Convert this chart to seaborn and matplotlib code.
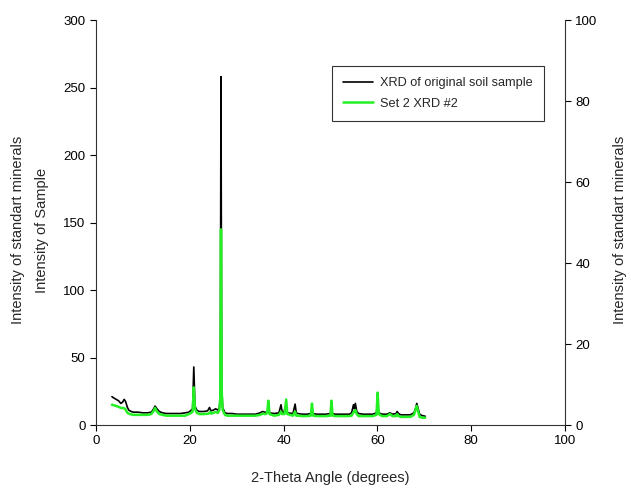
import matplotlib
matplotlib.use("Agg")
import matplotlib.pyplot as plt
import seaborn as sns
import pandas as pd

# ---- data ----
sample_x = [3.4, 3.8, 4.3, 4.8, 5.3, 5.7, 6.0, 6.3, 6.7, 7.0, 7.5, 8.0, 9.0, 10.0, 11.0,
            11.8, 12.3, 12.6, 13.0, 13.5, 14.2, 15.0, 16.0, 17.0, 18.0, 19.0, 19.8, 20.3,
            20.6, 20.85, 21.1, 21.5, 22.0, 23.0, 23.8, 24.2, 24.5, 25.0, 25.5, 26.0, 26.3,
            26.5, 26.65, 26.8, 27.0, 27.5, 28.0, 29.0, 30.0, 31.0, 32.0, 33.0, 34.0, 35.0,
            35.5, 36.0, 36.5, 36.6, 36.75, 37.0, 38.0, 39.0, 39.45, 39.7, 40.0, 40.45, 40.8,
            42.0, 42.45, 42.7, 43.0, 44.0, 45.0, 45.8, 46.0, 46.2, 47.0, 48.0, 49.0, 50.0,
            50.15, 50.4, 51.0, 52.0, 53.0, 54.0, 54.5, 54.9, 55.1, 55.3, 55.6, 56.0, 57.0,
            58.0, 59.0, 59.8, 60.0, 60.3, 61.0, 62.0, 62.7, 63.2, 64.0, 64.2, 64.5, 65.0,
            66.0, 67.0, 67.8, 68.1, 68.4, 68.7, 69.0, 69.5, 70.2]
sample_y = [21, 20, 19, 18, 16, 17, 19, 17.5, 13, 11, 10, 9.5, 9.5, 9, 9,
            9.5, 12, 14, 12, 10, 9, 8.5, 8.5, 8.5, 8.5, 9, 9.5, 11,
            12, 43, 14, 11, 10, 10, 10.5, 13, 10.5, 11, 12, 11, 13,
            20, 258, 30, 13, 9, 8.5, 8.5, 8, 8, 8, 8, 8, 9,
            10, 9.5, 9, 10, 12, 9, 8.5, 9, 15, 9.5, 9, 14, 9,
            8.5, 15.5, 9, 8.5, 8, 8, 8.5, 11, 8.5, 8, 8, 8, 8.5,
            12, 8.5, 8, 8, 8, 8, 9, 15, 12, 16, 10, 8.5, 8,
            8, 8, 9, 15, 9, 8, 8, 9, 8, 8.5, 10, 8.5, 7.5,
            7.5, 7.5, 9, 12, 16, 12, 8, 7, 6.5]

standard_x = [3.4, 4.0, 4.8, 5.3, 5.8, 6.2, 6.7, 7.2, 8.0, 9.0, 10.0, 11.0, 11.8, 12.3,
              12.6, 13.0, 13.5, 14.2, 15.0, 17.0, 19.0, 19.8, 20.3, 20.6, 20.85, 21.1,
              21.5, 22.0, 23.0, 24.0, 24.35, 24.6, 25.0, 25.5, 26.0, 26.3, 26.5, 26.65,
              26.8, 27.0, 27.5, 28.0, 31.0, 34.0, 35.0, 35.5, 36.2, 36.5, 36.75, 37.0,
              38.0, 39.0, 39.45, 39.7, 40.2, 40.55, 40.8, 42.0, 42.45, 42.7, 43.0, 44.0,
              45.0, 45.8, 46.05, 46.3, 47.0, 49.0, 50.0, 50.2, 50.45, 51.0, 54.0, 54.5,
              55.0, 55.3, 55.6, 56.0, 59.0, 59.8, 60.05, 60.3, 61.0, 62.0, 62.7, 63.2,
              64.0, 64.2, 64.5, 65.0, 67.0, 67.8, 68.2, 68.4, 68.7, 69.0, 69.5, 70.2]
standard_y = [5.0, 4.8, 4.5, 4.2, 4.2, 4.0, 3.0, 2.7, 2.5, 2.5, 2.5, 2.5, 2.7, 3.5,
              4.2, 3.3, 2.7, 2.5, 2.3, 2.3, 2.3, 2.7, 3.0, 3.3, 9.3, 4.0,
              3.0, 2.7, 2.7, 2.8, 3.2, 2.8, 3.0, 3.2, 3.0, 3.7, 6.7, 48.3,
              8.3, 3.7, 2.5, 2.3, 2.3, 2.3, 2.5, 2.8, 2.7, 3.0, 6.0, 2.7,
              2.3, 2.5, 3.3, 2.7, 2.7, 6.3, 2.7, 2.3, 3.3, 2.3, 2.3, 2.2,
              2.2, 2.3, 5.3, 2.3, 2.2, 2.2, 2.3, 6.0, 2.3, 2.2, 2.2, 2.3,
              3.3, 3.7, 2.7, 2.2, 2.2, 2.5, 8.0, 2.7, 2.2, 2.2, 2.7, 2.2,
              2.2, 2.7, 2.2, 2.0, 2.0, 2.5, 4.0, 4.7, 3.3, 2.0, 1.8, 1.8]

label_sample = "XRD of original soil sample"
label_standard = "Set 2 XRD #2"

df_sample = pd.DataFrame({"x": sample_x, "y": sample_y})
df_standard = pd.DataFrame({"x": standard_x, "y": standard_y})

sns.set_style("ticks")
plt.rcParams["font.family"] = ["Liberation Sans", "DejaVu Sans"]

fig = plt.figure(figsize=(6.31, 4.98), dpi=100)
ax = fig.add_axes([96 / 631, 73 / 498, 469 / 631, 405 / 498])
ax2 = ax.twinx()

sns.lineplot(data=df_sample, x="x", y="y", ax=ax, color="black", linewidth=1.2,
             sort=False, estimator=None, label=label_sample, legend=False)
sns.lineplot(data=df_standard, x="x", y="y", ax=ax2, color="#22f022", linewidth=1.8,
             sort=False, estimator=None, label=label_standard, legend=False)

ax.set_xlim(0, 100)
ax.set_ylim(0, 300)
ax2.set_ylim(0, 100)
ax.set_xticks([0, 20, 40, 60, 80, 100])
ax.set_yticks([0, 50, 100, 150, 200, 250, 300])
ax2.set_yticks([0, 20, 40, 60, 80, 100])

for a in (ax, ax2):
    a.spines["top"].set_visible(False)
    for s in a.spines.values():
        s.set_linewidth(0.8)
        s.set_color("#333333")
    a.tick_params(direction="out", length=4, width=0.8, labelsize=9.5, colors="black")
    a.set_xlabel("")
    a.set_ylabel("")
ax.spines["right"].set_visible(False)
ax2.spines["left"].set_visible(False)
ax2.spines["bottom"].set_visible(False)

fig.text(330 / 631, 1 - 478 / 498, "2-Theta Angle (degrees)", ha="center", va="center", fontsize=10.5)
fig.text(18 / 631, 1 - 230 / 498, "Intensity of standart minerals", ha="center", va="center",
         rotation=90, fontsize=10.5)
fig.text(42 / 631, 1 - 230 / 498, "Intensity of Sample", ha="center", va="center",
         rotation=90, fontsize=10.5)
fig.text(620 / 631, 1 - 230 / 498, "Intensity of standart minerals", ha="center", va="center",
         rotation=90, fontsize=10.5)

h1, l1 = ax.get_legend_handles_labels()
h2, l2 = ax2.get_legend_handles_labels()
leg = ax2.legend(h1 + h2, l1 + l2, loc="upper left", bbox_to_anchor=(0.503, 0.886),
                 frameon=True, fancybox=False, shadow=False, fontsize=9.2,
                 borderpad=0.85, handlelength=2.4, handletextpad=0.55, labelspacing=0.68,
                 borderaxespad=0)
leg.get_frame().set_edgecolor("black")
leg.get_frame().set_linewidth(0.8)

fig.savefig("out.png", dpi=100)
